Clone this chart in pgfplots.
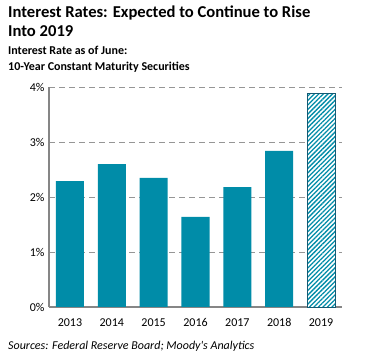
\documentclass[border=0pt]{standalone}
\usepackage{pgfplots}
\pgfplotsset{compat=1.18}
\usetikzlibrary{patterns.meta}
\usepackage{fontspec}
\setmainfont{Carlito}
\definecolor{barteal}{RGB}{0,140,168}
\definecolor{edgeteal}{RGB}{20,90,115}
\definecolor{axgray}{RGB}{134,134,134}
\definecolor{gridgray}{RGB}{150,150,150}
\begin{document}
\begin{tikzpicture}
\useasboundingbox (0,0) rectangle (370bp,363bp);
\node[anchor=base west,inner sep=0pt,font=\fontsize{16.6bp}{19bp}\selectfont\bfseries] at (8bp,345bp) {Interest Rates: Expected to Continue to Rise};
\node[anchor=base west,inner sep=0pt,font=\fontsize{16.6bp}{19bp}\selectfont\bfseries] at (8bp,326bp) {Into 2019};
\node[anchor=base west,inner sep=0pt,font=\fontsize{12bp}{14bp}\selectfont\bfseries] at (8bp,308bp) {Interest Rate as of June:};
\node[anchor=base west,inner sep=0pt,font=\fontsize{12bp}{14bp}\selectfont\bfseries] at (8bp,292bp) {10-Year Constant Maturity Securities};
\node[anchor=base west,inner sep=0pt,font=\fontsize{12bp}{14bp}\selectfont\itshape] at (8bp,14bp) {Sources: Federal Reserve Board; Moody\textquotesingle s Analytics};
\begin{axis}[
  at={(49bp,56bp)}, anchor=south west,
  scale only axis, width=293bp, height=220bp,
  ymin=0, ymax=4, xmin=-0.5, xmax=6.5,
  ytick={0,1,2,3,4},
  yticklabel={\pgfmathprintnumber{\tick}\%},
  xtick={0,1,2,3,4,5,6},
  xticklabels={2013,2014,2015,2016,2017,2018,2019},
  /pgf/number format/assume math mode=true,
  ticklabel style={font=\fontsize{12bp}{14bp}\selectfont},
  tick style={draw=none},
  xticklabel style={yshift=-4bp},
  yticklabel style={xshift=-1bp},
  axis x line*=bottom, axis y line*=left,
  axis line style={draw=axgray, line width=1.6bp, -},
  ymajorgrids,
  grid style={gridgray, line width=0.8bp, dash pattern=on 6bp off 4bp},
  ybar, bar width=28bp, bar shift=0pt,
  clip=false,
]
\addplot[fill=barteal, draw=none] coordinates {(0,2.29) (1,2.60) (2,2.35) (3,1.64) (4,2.18) (5,2.84)};
\addplot[fill=white, draw=edgeteal, line width=0.8bp, postaction={pattern={Lines[angle=45,distance=3.2bp,line width=1.3bp]}, pattern color=barteal}] coordinates {(6,3.89)};
\end{axis}
\end{tikzpicture}
\end{document}
